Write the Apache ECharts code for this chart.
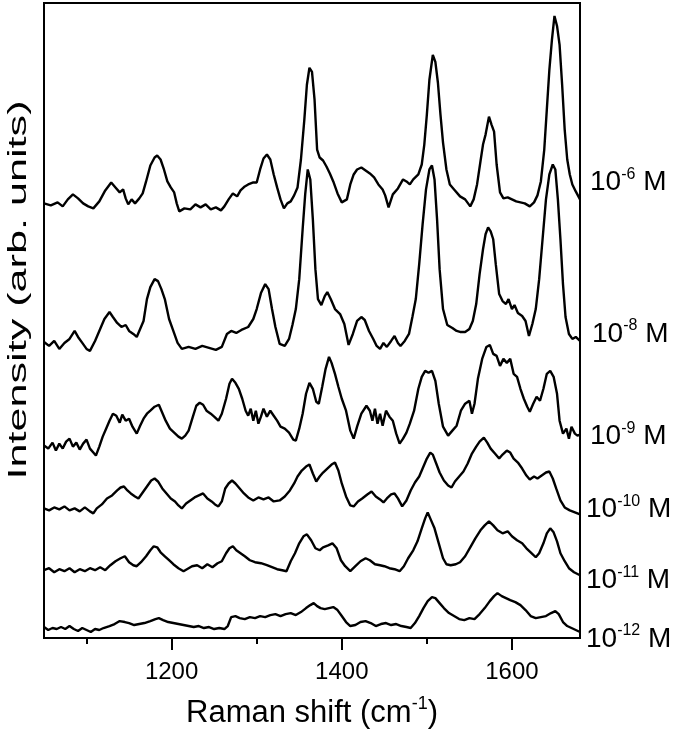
<!DOCTYPE html>
<html>
<head>
<meta charset="utf-8">
<script src="https://cdn.jsdelivr.net/npm/echarts@6/dist/echarts.min.js"></script>
<style>html,body{margin:0;padding:0;background:#fff}#c{width:685px;height:736px}</style>
</head>
<body>
<div id="c"></div>
<script>
// ---- data (Raman shift in cm^-1, intensity in arbitrary offset units) ----
const majorTicks = [1200, 1400, 1600];
const minorTicks = [1100, 1300, 1500];
const seriesNames = ['10^-6 M', '10^-8 M', '10^-9 M', '10^-10 M', '10^-11 M', '10^-12 M'];
const exponents = ['-6', '-8', '-9', '-10', '-11', '-12'];

const spec_e6 = [[1050,436],[1058,434],[1066,437],[1072,433],[1078,440],[1084,445],[1090,441],[1096,436],[1102,433],[1108,431],[1115,438],[1122,449],[1129,457],[1134,452],[1139,447],[1143,450],[1146,441],[1149,435],[1153,440],[1157,436],[1162,441],[1166,446],[1170,458],[1175,474],[1180,482],[1183,484],[1187,480],[1191,470],[1195,458],[1199,452],[1203,447],[1206,436],[1209,428],[1215,431],[1222,430],[1228,435],[1234,432],[1240,435],[1246,430],[1252,432],[1258,429],[1262,433],[1267,440],[1272,446],[1277,443],[1281,449],[1286,453],[1290,455],[1296,457],[1300,457],[1304,470],[1308,481],[1312,485],[1316,480],[1320,465],[1324,452],[1328,440],[1332,431],[1336,436],[1340,438],[1344,444],[1348,452],[1352,480],[1356,520],[1359,555],[1362,572],[1365,568],[1368,540],[1371,490],[1374,482],[1378,479],[1382,473],[1386,466],[1390,458],[1395,446],[1400,437],[1406,440],[1410,455],[1414,465],[1418,470],[1423,472],[1428,469],[1433,466],[1438,462],[1443,455],[1448,450],[1451,444],[1455,432],[1460,445],[1466,451],[1472,460],[1476,458],[1480,455],[1484,460],[1490,465],[1494,475],[1497,495],[1500,525],[1503,560],[1507,585],[1510,578],[1513,557],[1516,525],[1519,497],[1523,470],[1527,455],[1532,450],[1539,443],[1545,440],[1551,433],[1555,440],[1559,455],[1563,478],[1566,495],[1569,505],[1573,523],[1576,515],[1579,508],[1582,475],[1586,447],[1590,441],[1595,442],[1600,440],[1605,438],[1610,437],[1615,436],[1621,433],[1626,437],[1630,444],[1634,458],[1638,490],[1641,530],[1644,570],[1647,600],[1650,624],[1653,614],[1656,595],[1659,555],[1662,510],[1665,480],[1668,465],[1671,455],[1675,448],[1680,440]];

const spec_e8 = [[1050,297],[1056,293],[1062,298],[1068,290],[1074,296],[1080,300],[1086,308],[1090,302],[1095,296],[1100,290],[1104,288],[1110,298],[1116,310],[1121,320],[1127,327],[1131,322],[1136,316],[1141,312],[1146,314],[1150,308],[1155,305],[1159,302],[1163,310],[1167,318],[1171,340],[1175,352],[1180,360],[1184,358],[1188,350],[1192,340],[1197,320],[1202,308],[1207,296],[1212,290],[1220,292],[1228,290],[1236,293],[1244,291],[1252,289],[1259,292],[1265,305],[1270,308],[1276,306],[1282,309],[1290,312],[1296,320],[1300,330],[1305,346],[1310,355],[1314,350],[1318,330],[1322,312],[1327,295],[1333,293],[1338,300],[1342,314],[1346,330],[1350,360],[1354,410],[1357,445],[1360,470],[1363,460],[1366,420],[1369,370],[1372,340],[1376,334],[1380,343],[1383,347],[1387,340],[1392,330],[1398,325],[1403,315],[1408,294],[1413,305],[1418,318],[1423,322],[1427,319],[1432,308],[1437,300],[1441,293],[1445,290],[1449,296],[1453,292],[1458,298],[1462,303],[1466,296],[1469,293],[1474,298],[1479,305],[1483,322],[1487,340],[1491,375],[1495,415],[1499,450],[1503,470],[1506,474],[1509,460],[1512,420],[1515,370],[1519,330],[1524,314],[1530,311],[1535,308],[1539,307],[1545,307],[1550,310],[1554,318],[1558,335],[1562,365],[1566,390],[1569,405],[1572,412],[1575,408],[1578,400],[1581,375],[1585,345],[1589,338],[1593,335],[1596,340],[1600,330],[1603,334],[1607,326],[1612,323],[1616,318],[1620,303],[1624,315],[1628,330],[1632,360],[1636,400],[1640,440],[1644,465],[1648,475],[1651,470],[1654,440],[1657,400],[1660,355],[1663,322],[1667,305],[1671,300],[1675,302],[1680,298]];

const spec_e9 = [[1050,193],[1055,190],[1060,196],[1064,188],[1068,195],[1072,190],[1076,197],[1080,200],[1084,192],[1088,196],[1092,189],[1096,195],[1100,199],[1104,190],[1108,186],[1111,183],[1115,192],[1119,202],[1123,210],[1127,218],[1131,225],[1135,223],[1139,216],[1142,224],[1146,218],[1150,220],[1154,212],[1159,205],[1163,213],[1167,220],[1171,225],[1175,228],[1180,232],[1185,234],[1189,226],[1193,218],[1198,210],[1203,206],[1208,202],[1212,200],[1216,203],[1220,208],[1225,222],[1229,233],[1233,236],[1237,234],[1241,228],[1246,225],[1250,222],[1255,218],[1259,225],[1264,240],[1268,255],[1271,260],[1275,256],[1279,250],[1283,240],[1287,228],[1290,223],[1293,230],[1296,218],[1299,228],[1302,215],[1305,222],[1308,230],[1312,222],[1316,228],[1320,223],[1324,218],[1328,212],[1333,210],[1338,206],[1343,199],[1346,198],[1350,210],[1354,225],[1358,245],[1362,256],[1366,250],[1370,237],[1373,235],[1377,252],[1381,270],[1385,282],[1388,276],[1392,265],[1396,252],[1400,240],[1405,228],[1410,208],[1414,200],[1418,212],[1423,225],[1429,233],[1433,228],[1436,218],[1439,230],[1442,215],[1445,225],[1448,213],[1452,228],[1456,222],[1460,218],[1464,205],[1468,195],[1472,200],[1476,206],[1480,215],[1485,228],[1490,250],[1494,262],[1498,268],[1502,266],[1506,268],[1510,258],[1514,235],[1519,212],[1525,203],[1530,208],[1535,213],[1540,228],[1545,235],[1550,238],[1553,225],[1556,235],[1560,260],[1565,280],[1570,292],[1574,294],[1578,285],[1582,283],[1586,273],[1590,280],[1594,276],[1598,280],[1602,265],[1606,262],[1610,250],[1614,240],[1618,232],[1621,227],[1625,235],[1629,242],[1633,238],[1637,250],[1641,265],[1645,268],[1649,262],[1653,245],[1656,218],[1660,205],[1664,210],[1667,200],[1670,212],[1674,205],[1677,203],[1680,204]];

const spec_e10 = [[1050,130],[1056,128],[1062,131],[1068,129],[1074,132],[1080,128],[1086,130],[1092,127],[1098,131],[1104,127],[1108,125],[1112,130],[1118,134],[1124,140],[1130,143],[1136,148],[1140,151],[1144,152],[1148,148],[1152,145],[1157,142],[1161,140],[1166,146],[1171,152],[1176,158],[1180,160],[1184,157],[1189,150],[1194,145],[1199,140],[1204,137],[1208,133],[1212,130],[1217,135],[1222,138],[1227,141],[1232,143],[1237,145],[1242,140],[1247,137],[1251,134],[1255,132],[1259,137],[1263,150],[1267,155],[1271,158],[1275,155],[1280,150],[1285,145],[1290,141],[1296,138],[1302,141],[1308,139],[1314,141],[1320,137],[1327,138],[1333,142],[1339,148],[1344,155],[1348,162],[1353,168],[1358,172],[1362,174],[1366,165],[1370,157],[1374,162],[1378,166],[1383,170],[1388,174],[1392,176],[1396,168],[1400,155],[1405,142],[1410,133],[1414,132],[1419,137],[1424,140],[1430,144],[1435,147],[1440,142],[1445,139],[1449,136],[1453,140],[1458,144],[1462,145],[1466,140],[1471,132],[1476,138],[1481,148],[1486,156],[1491,162],[1495,170],[1500,180],[1504,186],[1507,184],[1511,175],[1515,166],[1520,158],[1525,153],[1529,151],[1533,157],[1538,162],[1543,167],[1548,175],[1553,185],[1558,192],[1562,197],[1567,201],[1571,196],[1575,190],[1580,185],[1585,180],[1589,184],[1594,188],[1598,186],[1602,180],[1607,176],[1612,170],[1617,163],[1621,159],[1626,162],[1630,160],[1635,163],[1640,166],[1644,167],[1648,160],[1652,150],[1657,138],[1662,131],[1668,128],[1674,126],[1680,124]];

const spec_e11 = [[1050,68],[1056,70],[1062,66],[1068,69],[1074,67],[1080,70],[1086,66],[1092,69],[1098,67],[1104,70],[1110,68],[1116,71],[1122,68],[1128,73],[1134,77],[1140,80],[1145,82],[1150,76],[1155,73],[1159,72],[1164,76],[1170,82],[1175,88],[1179,92],[1183,91],[1187,86],[1192,82],[1197,78],[1202,74],[1208,70],[1214,67],[1218,69],[1224,72],[1230,73],[1236,70],[1242,74],[1248,71],[1254,75],[1259,77],[1264,85],[1268,90],[1272,92],[1276,88],[1281,85],[1286,82],[1292,78],[1298,76],[1305,75],[1312,73],[1318,71],[1324,69],[1330,68],[1335,67],[1340,77],[1345,85],[1350,95],[1355,102],[1359,104],[1364,98],[1369,90],[1374,88],[1378,91],[1384,93],[1389,95],[1394,90],[1399,78],[1404,72],[1410,67],[1416,72],[1422,77],[1428,80],[1433,78],[1439,74],[1445,73],[1450,72],[1456,70],[1462,69],[1468,67],[1473,72],[1478,80],[1484,88],[1489,97],[1494,110],[1498,120],[1501,126],[1505,118],[1509,110],[1514,95],[1519,80],[1523,74],[1528,73],[1534,74],[1539,76],[1545,82],[1551,91],[1557,100],[1563,108],[1568,113],[1573,117],[1578,113],[1583,108],[1589,105],[1595,107],[1600,102],[1606,98],[1612,95],[1617,90],[1622,86],[1628,81],[1632,85],[1637,95],[1641,105],[1645,110],[1649,106],[1653,97],[1657,85],[1662,77],[1667,70],[1673,66],[1680,63]];

const spec_e12 = [[1050,11],[1055,8],[1060,10],[1065,9],[1070,11],[1075,9],[1080,12],[1085,9],[1090,7],[1095,10],[1100,8],[1105,6],[1110,9],[1115,8],[1120,10],[1127,12],[1133,14],[1139,17],[1145,16],[1150,15],[1156,13],[1162,14],[1168,15],[1175,17],[1181,19],[1185,20],[1190,18],[1196,16],[1202,15],[1208,14],[1214,13],[1220,12],[1226,11],[1232,12],[1238,10],[1244,11],[1250,9],[1256,10],[1262,9],[1266,12],[1270,21],[1275,22],[1280,20],[1286,19],[1292,21],[1298,20],[1304,22],[1310,21],[1316,23],[1322,24],[1328,22],[1334,24],[1340,25],[1346,23],[1352,26],[1358,30],[1363,33],[1367,35],[1371,32],[1375,30],[1380,29],[1385,30],[1390,31],[1395,28],[1400,22],[1405,16],[1410,12],[1416,13],[1422,16],[1428,17],[1434,15],[1440,12],[1446,14],[1452,15],[1458,13],[1464,14],[1470,12],[1476,11],[1481,10],[1486,15],[1491,22],[1496,30],[1501,37],[1506,41],[1510,40],[1515,35],[1520,30],[1526,25],[1532,22],[1538,19],[1544,18],[1550,20],[1556,19],[1562,24],[1568,30],[1574,37],[1579,42],[1583,45],[1588,42],[1593,40],[1598,38],[1604,36],[1610,33],[1616,28],[1622,22],[1628,20],[1634,21],[1640,22],[1646,25],[1651,27],[1655,24],[1660,16],[1665,12],[1670,10],[1675,8],[1680,6]];

const spectra = [spec_e6, spec_e8, spec_e9, spec_e10, spec_e11, spec_e12];

// ---- layout / style ----
const FONT = '"Liberation Sans", Arial, Helvetica, sans-serif';
const labelOffsets = [[10, -17], [12, -7], [10, 2], [6, -5], [6, 5], [6, 7]];

const chart = echarts.init(document.getElementById('c'), null, { renderer: 'canvas' });

const series = spectra.map((d, i) => ({
  name: seriesNames[i],
  type: 'line',
  xAxisIndex: 0,
  data: d,
  showSymbol: false,
  symbol: 'none',
  silent: true,
  animation: false,
  lineStyle: { color: '#000', width: 2.4 },
  endLabel: {
    show: true,
    distance: 0,
    offset: labelOffsets[i],
    align: 'left',
    verticalAlign: 'middle',
    formatter: () => '{b|10}{s|' + exponents[i] + '}{b| M}',
    rich: {
      b: { fontFamily: FONT, fontSize: 28, color: '#000', lineHeight: 32 },
      s: { fontFamily: FONT, fontSize: 16, color: '#000', verticalAlign: 'top', lineHeight: 32 }
    }
  }
}));

chart.setOption({
  animation: false,
  backgroundColor: '#fff',
  grid: { left: 44, right: 105, top: 3, bottom: 96, show: true, borderColor: '#000', borderWidth: 2, backgroundColor: 'transparent' },
  xAxis: [{
    type: 'value', min: 1050, max: 1680,
    axisLine: { show: true, lineStyle: { color: '#000', width: 2 } },
    axisTick: { show: true, customValues: majorTicks, length: 12, lineStyle: { color: '#000', width: 2 } },
    axisLabel: { show: true, customValues: majorTicks, formatter: v => String(v), fontFamily: FONT, fontSize: 24, color: '#000', margin: 22 },
    splitLine: { show: false },
    name: 'Raman shift (cm{s|-1})',
    nameLocation: 'middle',
    nameGap: 57,
    nameTextStyle: {
      rich: {
        s: { fontFamily: FONT, fontSize: 18, color: '#000', verticalAlign: 'top', lineHeight: 36 }
      },
      fontFamily: FONT, fontSize: 31, color: '#000', lineHeight: 36
    }
  }, {
    type: 'value', min: 1050, max: 1680, position: 'bottom', gridIndex: 0,
    axisLine: { show: false },
    axisTick: { show: true, customValues: minorTicks, length: 6, lineStyle: { color: '#000', width: 2 } },
    axisLabel: { show: false },
    splitLine: { show: false }
  }],
  yAxis: { type: 'value', min: 0, max: 637, show: false },
  graphic: [{
    type: 'text',
    rotation: Math.PI / 2,
    x: 19, y: 290,
    scaleX: 1.66,
    style: { text: 'Intensity (arb. units)', font: '26px ' + FONT, fill: '#000', textAlign: 'center', textVerticalAlign: 'middle' }
  }],
  series: series
});
</script>
</body>
</html>
